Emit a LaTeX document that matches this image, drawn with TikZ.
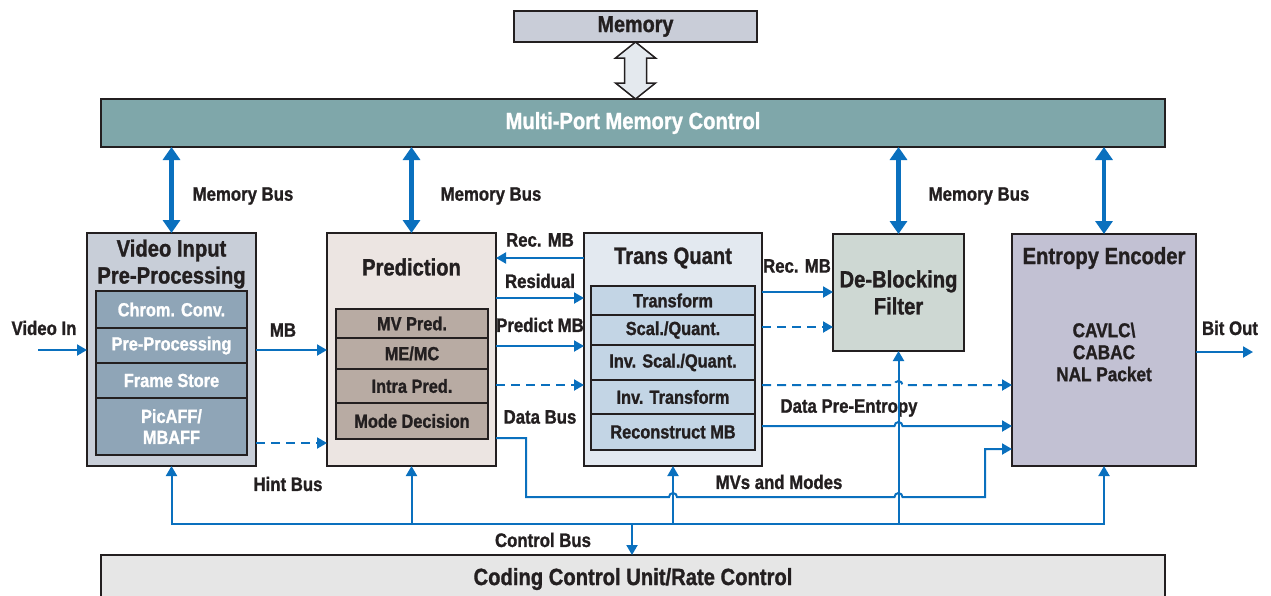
\documentclass[tikz,border=0pt]{standalone}
\usepackage{fontspec}
\setmainfont{Liberation Sans}[FakeStretch=0.86, BoldFeatures={FakeBold=1.2}]
\usetikzlibrary{calc,positioning,arrows.meta}
\definecolor{busblue}{RGB}{10,112,190}
\definecolor{inkdark}{RGB}{35,31,32}
\definecolor{memfill}{RGB}{201,205,216}
\definecolor{mpmcfill}{RGB}{127,167,170}
\definecolor{vidfill}{RGB}{200,206,216}
\definecolor{vidcell}{RGB}{143,165,183}
\definecolor{predfill}{RGB}{236,229,226}
\definecolor{predcell}{RGB}{184,171,163}
\definecolor{tqfill}{RGB}{227,233,240}
\definecolor{tqcell}{RGB}{195,213,229}
\definecolor{dbffill}{RGB}{206,216,211}
\definecolor{entfill}{RGB}{194,193,211}
\definecolor{ccufill}{RGB}{230,230,230}
\definecolor{linkfill}{RGB}{228,233,238}
\tikzset{
	>={Triangle[width=11pt,length=10pt]},
	block/.style={
		draw=inkdark, line width=1.8pt,
		anchor=north west,
		inner sep=0pt, outer sep=0pt},
	title/.style={
		font=\bfseries\fontsize{23.5}{27}\selectfont,
		text=inkdark, align=center},
	cellbox/.style={
		draw=inkdark, line width=1.8pt,
		inner sep=0pt, outer sep=0pt,
		font=\bfseries\fontsize{19}{21}\selectfont,
		align=center},
	vidrow/.style={cellbox, fill=vidcell, text=white, minimum width=151pt},
	predrow/.style={cellbox, fill=predcell, text=inkdark, minimum width=152pt},
	tqrow/.style={cellbox, fill=tqcell, text=inkdark, minimum width=164pt},
	buslabel/.style={font=\bfseries\fontsize{19.5}{22}\selectfont, text=inkdark},
	line/.style={draw=busblue, line width=2pt},
	bus/.style={line, ->},
	dashbus/.style={bus, dash pattern=on 9pt off 6pt},
	membus/.style={draw=busblue, line width=4.5pt,
		{Triangle[width=17pt,length=13pt]}-{Triangle[width=17pt,length=13pt]}},
	memlink/.style={draw=inkdark, line width=1.5pt, fill=linkfill, line join=miter},
}
\begin{document}
\begin{tikzpicture}[x=1pt,y=-1pt]
\useasboundingbox (0,0) rectangle (1271,595);

% memory and memory control
\node[block, fill=memfill, line width=1.5pt, minimum width=243pt, minimum height=31pt,
	font=\bfseries\fontsize{23}{25}\selectfont, text=inkdark] (mem) at (514,11) {Memory};
\node[block, fill=mpmcfill, line width=1.5pt, minimum width=1064pt, minimum height=48pt,
	font=\bfseries\fontsize{23.5}{26}\selectfont, text=white] (mpmc) at (101,99) {Multi-Port Memory Control};
\node[block, fill=ccufill, line width=1.5pt, minimum width=1064pt, minimum height=48pt,
	font=\bfseries\fontsize{23.5}{26}\selectfont, text=inkdark] (ccu) at (101,555) {Coding Control Unit/Rate Control};
\draw[memlink] (mem.south) -- ++(20,16) -- ++(-9,0) -- ++(0,25) -- ++(9,0)
	-- (mpmc.north -| mem.south) -- ++(-20,-16) -- ++(9,0) -- ++(0,-25) -- ++(-9,0) -- cycle;

% processing blocks
\node[block, fill=vidfill, minimum width=169pt, minimum height=233pt] (vid) at (87,233) {};
\node[block, fill=predfill, minimum width=169pt, minimum height=233pt] (pred) at (327,233) {};
\node[block, fill=tqfill, minimum width=178pt, minimum height=233pt] (tq) at (584,233) {};
\node[block, fill=dbffill, minimum width=131pt, minimum height=117pt, align=center,
	font=\bfseries\fontsize{23.5}{27}\selectfont, text=inkdark] (dbf) at (833,234) {De-Blocking\\Filter};
\node[block, fill=entfill, minimum width=184pt, minimum height=232pt] (ent) at (1012,234) {};

\node[title] (vid-title) at (171.5,264) {Video Input\\Pre-Processing};
\node[title] (pred-title) at (411.5,267) {Prediction};
\node[title] (tq-title) at (673,258) {Trans Quant};
\node[title] (ent-title) at (1104,258) {Entropy Encoder};
\node[font=\bfseries\fontsize{20}{22}\selectfont, text=inkdark, align=center] (ent-body)
	at (1104,352) {CAVLC\textbackslash\\CABAC\\NAL Packet};

\node[vidrow, minimum height=37pt, anchor=north] (vid-chrom) at (171.5,291) {Chrom. Conv.};
\node[vidrow, minimum height=35pt, below=0pt of vid-chrom] (vid-pre) {Pre-Processing};
\node[vidrow, minimum height=35pt, below=0pt of vid-pre] (vid-store) {Frame Store};
\node[vidrow, minimum height=57pt, below=0pt of vid-store] (vid-aff) {PicAFF/\\MBAFF};

\node[predrow, minimum height=29pt, anchor=north] (pred-mv) at (412,309) {MV Pred.};
\node[predrow, minimum height=31pt, below=0pt of pred-mv] (pred-me) {ME/MC};
\node[predrow, minimum height=34pt, below=0pt of pred-me] (pred-intra) {Intra Pred.};
\node[predrow, minimum height=36pt, below=0pt of pred-intra] (pred-mode) {Mode Decision};

\node[tqrow, minimum height=29pt, anchor=north] (tq-trans) at (673,286) {Transform};
\node[tqrow, minimum height=30pt, below=0pt of tq-trans] (tq-quant) {Scal./Quant.};
\node[tqrow, minimum height=35pt, below=0pt of tq-quant] (tq-iquant) {Inv. Scal./Quant.};
\node[tqrow, minimum height=34pt, below=0pt of tq-iquant] (tq-itrans) {Inv. Transform};
\node[tqrow, minimum height=36pt, below=0pt of tq-itrans] (tq-recon) {Reconstruct MB};

% labels
\node[buslabel] (lbl-mb1) at (243,196) {Memory Bus};
\node[buslabel] (lbl-mb2) at (491,196) {Memory Bus};
\node[buslabel] (lbl-mb3) at (979,196) {Memory Bus};
\node[buslabel] (lbl-vin) at (44,328) {Video In};
\node[buslabel] (lbl-mb) at (283,330) {MB};
\node[buslabel] (lbl-hint) at (288,484) {Hint Bus};
\node[buslabel] (lbl-rec1) at (540,240) {Rec. MB};
\node[buslabel] (lbl-resid) at (540,281) {Residual};
\node[buslabel] (lbl-pmb) at (540,325) {Predict MB};
\node[buslabel] (lbl-data) at (540,417) {Data Bus};
\node[buslabel] (lbl-rec2) at (797,266) {Rec. MB};
\node[buslabel] (lbl-dpe) at (849,408) {Data Pre-Entropy};
\node[buslabel] (lbl-mvs) at (779,482) {MVs and Modes};
\node[buslabel] (lbl-bout) at (1230,328) {Bit Out};
\node[buslabel] (lbl-ctl) at (543,540) {Control Bus};

% memory buses
\draw[membus] (vid.north |- mpmc.south) -- (vid.north);
\draw[membus] (pred.north |- mpmc.south) -- (pred.north);
\draw[membus] (dbf.north |- mpmc.south) -- (dbf.north);
\draw[membus] (ent.north |- mpmc.south) -- (ent.north);

% data path
\coordinate (vin) at (38,350);
\coordinate (bout) at (1253,352);
\draw[bus] (vin) -- (vin -| vid.west);
\draw[bus] (vid.east |- 0,350) -- (pred.west |- 0,350);
\draw[dashbus] (vid.east |- 0,443) -- (pred.west |- 0,443);
\draw[bus] (tq.west |- 0,258) -- (pred.east |- 0,258);
\draw[bus] (pred.east |- 0,298) -- (tq.west |- 0,298);
\draw[bus] (pred.east |- 0,346) -- (tq.west |- 0,346);
\draw[dashbus] (pred.east |- 0,385) -- (tq.west |- 0,385);
\draw[bus] (tq.east |- 0,292) -- (dbf.west |- 0,292);
\draw[dashbus] (tq.east |- 0,327) -- (dbf.west |- 0,327);
\draw[dashbus] (tq.east |- 0,385) -- ($(dbf.south |- 0,385)-(4,0)$)
	arc[start angle=180, end angle=0, radius=4pt] -- (ent.west |- 0,385);
\draw[bus] (tq.east |- 0,426) -- ($(dbf.south |- 0,426)-(4,0)$)
	arc[start angle=180, end angle=0, radius=4pt] -- (ent.west |- 0,426);
\draw[bus] (pred.east |- 0,438) -| (526,497) -- ($(tq.south |- 0,497)-(4,0)$)
	arc[start angle=180, end angle=0, radius=4pt] -- ($(dbf.south |- 0,497)-(4,0)$)
	arc[start angle=180, end angle=0, radius=4pt] -| (985,449) -- (ent.west |- 0,449);
\draw[bus] (ent.east |- bout) -- (bout);

% control bus
\coordinate (ctl) at (632,524);
\draw[line, <->] (vid.south) |- (ent.south |- ctl) -- (ent.south);
\draw[bus] (pred.south |- ctl) -- (pred.south);
\draw[bus] (tq.south |- ctl) -- (tq.south);
\draw[bus] (dbf.south |- ctl) -- (dbf.south);
\draw[bus] (ctl) -- (ctl |- ccu.north);
\end{tikzpicture}
\end{document}
